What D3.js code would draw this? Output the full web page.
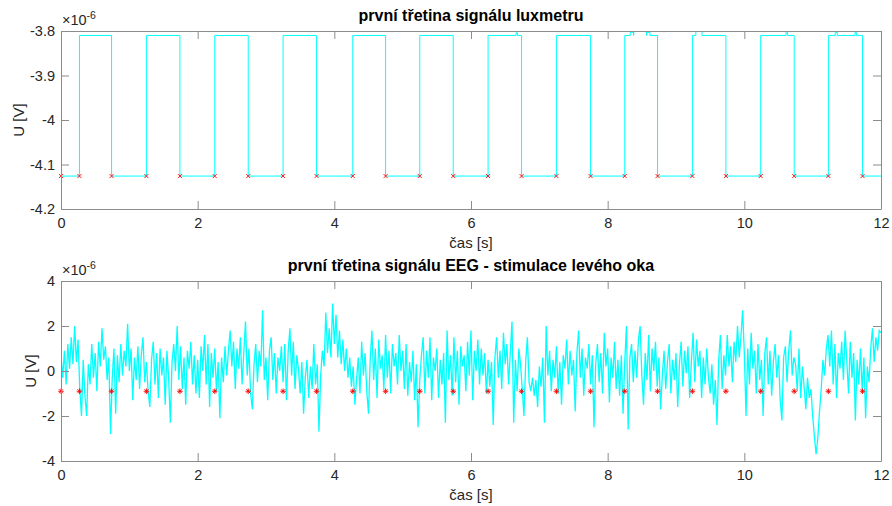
<!DOCTYPE html>
<html>
<head>
<meta charset="utf-8">
<script src="https://cdn.jsdelivr.net/npm/d3@7"></script>
<style>
  body { margin: 0; background: #fff; }
  text { font-family: "Liberation Sans", Arial, sans-serif; }
</style>
</head>
<body>
<script>
// values are in units of 1e-6 V (the axis multiplier)
var xTicks = [0, 2, 4, 6, 8, 10, 12];
var luxTicks = [-3.8, -3.9, -4, -4.1, -4.2];
var eegTicks = [-4, -2, 0, 2, 4];

// luxmeter: square wave, edge times
var luxHigh = -3.81;
var luxLow = -4.126;
var riseTimes = [0.27, 1.25, 2.25, 3.25, 4.27, 5.25, 6.25, 7.25, 8.25, 9.24, 10.24, 11.23];
var fallTimes = [0.74, 1.74, 2.74, 3.74, 4.75, 5.74, 6.74, 7.75, 8.73, 9.73, 10.73, 11.73];
// small ripples on top of some pulses: [start, end, level]
var luxBumps = [
  [6.66, 6.68, -3.804],
  [8.33, 8.38, -3.803], [8.38, 8.57, -3.797], [8.57, 8.62, -3.803],
  [9.29, 9.38, -3.797],
  [10.61, 10.63, -3.799],
  [11.33, 11.36, -3.803], [11.62, 11.64, -3.803]
];

// detected stimulus markers
var markerTimes = [0, 0.27, 0.74, 1.25, 1.74, 2.25, 2.74, 3.25, 3.74, 4.27, 4.75, 5.25, 5.74,
  6.25, 6.74, 7.25, 7.75, 8.25, 8.73, 9.24, 9.73, 10.24, 10.73, 11.23, 11.73];
var markerLux = -4.126;
var markerEeg = -0.9;

// EEG samples, one every 0.025 s from 0 to 12 s
var eegStep = 0.025;
var eeg = [
  0.7, -0.3, 0.9, -0.6, 1.2, 0.1, 1.5, 0.3, 2.0, 0.4,
  1.4, -0.8, -2.0, 0.5, -1.1, -2.0, 0.3, -0.6, 1.2, -0.3,
  0.8, -0.9, 1.3, 0.2, 1.9, 0.5, 1.1, -0.4, 0.6, -2.8,
  -0.3, 1.0, -1.9, 0.7, -0.5, 1.2, -0.2, 0.9, 0.2, 2.1,
  0.0, 1.0, -1.3, 0.6, -0.4, 1.1, -0.8, 0.7, 1.5, -0.5,
  0.4, -0.9, -1.6, 0.5, 1.3, -0.6, 0.8, -1.2, 1.0, -0.2,
  0.6, -1.5, 0.9, -0.3, -2.3, 0.4, 1.2, 0.0, 2.0, -0.4,
  1.1, -0.8, 0.6, -1.5, 0.9, 0.1, 1.3, -0.6, 0.7, -1.0,
  0.5, -1.2, 1.1, 0.0, 1.6, -0.6, 1.2, -1.6, 0.8, -0.3,
  1.0, -0.9, 0.4, -2.1, 0.6, -0.5, 1.1, -0.2, 0.9, 1.8,
  0.2, 1.3, -0.8, 1.0, 0.1, 1.5, -0.6, 0.8, 2.2, -0.2,
  1.0, -1.0, -1.7, 0.3, 1.2, -0.5, 0.9, 0.2, 2.7, -0.4,
  0.6, -1.3, 0.9, 1.5, -0.4, 0.8, -1.0, 0.6, 0.0, 1.1,
  -0.5, 1.2, -1.3, 0.9, 1.9, -0.2, 1.3, -0.8, 0.7, 0.1,
  -1.0, 0.4, -1.9, -0.3, 0.5, -1.2, 0.2, -0.8, 1.2, -0.6,
  0.3, -2.7, -0.2, 0.9, 0.2, 2.6, 0.8, 1.9, 0.6, 3.0,
  1.2, 2.5, 0.6, 1.8, 0.3, 1.4, 0.0, 1.0, -0.3, 0.6,
  -0.7, 0.2, -1.5, -0.4, 0.6, -1.0, 1.3, -0.2, 0.8, -0.9,
  -1.9, 0.5, 1.8, -0.4, 1.0, -1.2, 1.4, 0.1, 0.7, -0.8,
  1.6, -0.3, 0.9, -1.0, 1.2, 0.2, 0.8, -0.6, 1.6, 0.0,
  0.9, -0.8, 1.2, -1.1, 0.4, -0.5, 0.9, -1.3, 0.3, -2.5,
  -0.4, 0.7, 1.5, -1.0, 0.9, -0.3, 1.5, -1.3, 0.6, 0.0,
  1.0, -1.2, 0.5, -0.6, 0.8, -2.3, 1.8, -0.4, 0.7, -1.1,
  1.5, -0.5, 0.9, -1.5, 1.1, 0.2, 0.7, -0.9, 1.3, -0.2,
  1.8, -1.3, 0.9, 0.0, 1.4, -0.6, 1.0, -0.2, 0.8, -1.0,
  0.5, -0.7, 0.4, -2.4, 0.6, 1.5, -0.3, 0.9, -0.8, 1.7,
  0.3, 1.2, -0.6, 0.8, 2.2, -2.3, 0.5, -0.9, 1.0, 0.3,
  -0.8, -2.0, 0.4, 1.5, -0.5, -0.9, -0.3, -1.1, -0.4, -1.6,
  0.2, -0.7, 0.6, -2.3, 2.0, -0.2, 0.9, -0.9, 0.5, -0.3,
  1.1, -1.0, 0.4, -1.5, 0.7, 0.1, 1.4, -0.6, 0.9, -0.2,
  0.5, -1.8, 0.8, 1.8, -0.3, 1.0, -1.1, 0.6, 0.1, 1.2,
  -0.6, 0.7, -2.5, 0.3, 1.2, -0.5, 0.8, -1.0, 1.7, 0.2,
  1.0, -1.4, 0.6, -0.3, 1.3, -0.8, 0.5, -1.1, 0.7, -1.9,
  0.4, 2.0, -2.6, 0.6, 1.2, -0.5, 0.9, -0.3, 1.4, 2.0,
  -0.2, -1.5, 0.8, -0.4, 1.6, -0.9, 1.0, 0.0, 1.3, -0.7,
  0.6, -1.7, -0.2, 0.9, -0.8, 0.4, 1.2, -1.0, 0.5, -0.4,
  0.8, -1.6, 0.3, 1.3, -0.7, 0.9, -0.1, 1.1, -1.2, 0.4,
  1.7, -0.5, 1.4, 0.2, 0.9, -1.2, 0.6, -0.6, 1.0, -0.3,
  -1.0, 0.3, -1.5, -0.4, -2.4, 0.5, 1.6, -0.8, 0.7, -0.2,
  1.6, 0.2, 1.1, -0.5, 1.3, 0.4, 2.0, 0.6, 1.5, 2.7,
  0.8, -2.0, 1.0, -0.6, 1.7, 0.1, 0.9, -1.0, 1.2, -0.4,
  0.5, -2.0, 0.8, 1.5, -0.6, 0.9, -1.1, 0.4, 1.2, -0.3,
  0.7, -1.3, -2.2, 0.6, 1.1, -0.5, 0.9, 1.8, -0.2, 0.6,
  0.3, -0.9, 1.0, -1.2, 0.2, -0.7, -1.7, -0.3, -1.2, -0.8,
  -2.0, -2.9, -3.7, -3.0, -1.8, -0.8, 0.5, -0.2, 1.0, 1.6,
  0.2, 1.8, -0.6, 1.2, -1.2, 0.8, 0.1, 1.3, -0.4, 1.8,
  0.4, -1.0, 1.3, -0.3, 0.8, -2.2, 0.5, -0.6, 1.0, -0.9,
  0.6, -2.1, 0.2, -0.5, 1.0, 1.9, 0.4, 1.5, 0.9, 1.8,
  1.7
];

var width = 892, height = 506;
var left = 61, right = 881;
var lineColor = "#00ffff";
var axisColor = "#8c8c8c";
var labelColor = "#262626";

var svg = d3.select("body").append("svg").attr("width", width).attr("height", height);

var x = d3.scaleLinear().domain([0, 12]).range([left, right]);

// luxmeter step trace from the edge times (with the top ripples)
var luxPts = [[0, luxLow]];
riseTimes.forEach(function (r, i) {
  var f = fallTimes[i];
  luxPts.push([r, luxLow], [r, luxHigh]);
  luxBumps.filter(function (b) { return b[0] > r && b[1] < f; }).forEach(function (b) {
    luxPts.push([b[0], luxHigh], [b[0], b[2]], [b[1], b[2]], [b[1], luxHigh]);
  });
  luxPts.push([f, luxHigh], [f, luxLow]);
});
luxPts.push([12, luxLow]);

var eegPts = eeg.map(function (v, i) { return [i * eegStep, v]; });

function panel(cfg) {
  var y = d3.scaleLinear().domain(cfg.domain).range([cfg.bottom, cfg.top]);
  var g = svg.append("g");
  var clipId = "clip" + cfg.top;
  svg.append("clipPath").attr("id", clipId).append("rect")
    .attr("x", left).attr("y", cfg.top).attr("width", right - left).attr("height", cfg.bottom - cfg.top);

  var line = d3.line().x(function (d) { return x(d[0]); }).y(function (d) { return y(d[1]); });
  g.append("path").datum(cfg.data).attr("clip-path", "url(#" + clipId + ")")
    .attr("d", line).attr("fill", "none").attr("stroke", lineColor).attr("stroke-width", cfg.lw);

  // markers
  var m = g.append("g").attr("stroke", "#ff0000").attr("stroke-width", 0.9);
  markerTimes.forEach(function (t) {
    var cx = x(t), cy = y(cfg.marker), s = 2.8;
    m.append("path").attr("d", cfg.star
      ? "M" + (cx - s) + "," + cy + "H" + (cx + s) + "M" + cx + "," + (cy - s) + "V" + (cy + s) +
        "M" + (cx - s * 0.7) + "," + (cy - s * 0.7) + "L" + (cx + s * 0.7) + "," + (cy + s * 0.7) +
        "M" + (cx - s * 0.7) + "," + (cy + s * 0.7) + "L" + (cx + s * 0.7) + "," + (cy - s * 0.7)
      : "M" + (cx - 2) + "," + (cy - 2) + "L" + (cx + 2) + "," + (cy + 2) +
        "M" + (cx - 2) + "," + (cy + 2) + "L" + (cx + 2) + "," + (cy - 2));
  });

  var fmt = function (d) { return String(d); };
  var ax = [
    g.append("g").attr("transform", "translate(0," + cfg.bottom + ")")
      .call(d3.axisBottom(x).tickValues(xTicks).tickFormat(fmt).tickSizeInner(-8).tickSizeOuter(0).tickPadding(9)),
    g.append("g").attr("transform", "translate(0," + cfg.top + ")")
      .call(d3.axisTop(x).tickValues(xTicks).tickFormat("").tickSizeInner(-8).tickSizeOuter(0)),
    g.append("g").attr("transform", "translate(" + left + ",0)")
      .call(d3.axisLeft(y).tickValues(cfg.ticks).tickFormat(fmt).tickSizeInner(-8).tickSizeOuter(0).tickPadding(6)),
    g.append("g").attr("transform", "translate(" + right + ",0)")
      .call(d3.axisRight(y).tickValues(cfg.ticks).tickFormat("").tickSizeInner(-8).tickSizeOuter(0))
  ];
  ax.forEach(function (a) {
    a.select(".domain").attr("stroke", axisColor);
    a.selectAll(".tick line").attr("stroke", axisColor);
    a.selectAll(".tick text").attr("fill", labelColor).style("font-size", "14.5px");
  });

  // exponent
  var e = g.append("text").attr("x", left + 1).attr("y", cfg.top - 6)
    .attr("fill", labelColor).style("font-size", "14.5px");
  e.append("tspan").text("\u00d710");
  e.append("tspan").attr("dy", -6).style("font-size", "10.5px").text("-6");

  g.append("text").attr("x", (left + right) / 2).attr("y", cfg.top - 10)
    .attr("text-anchor", "middle").style("font-size", "16px").style("font-weight", "bold")
    .attr("fill", "#000").text(cfg.title);

  g.append("text").attr("x", (left + right) / 2).attr("y", cfg.bottom + 39)
    .attr("text-anchor", "middle").style("font-size", "15px").attr("fill", labelColor).text("\u010das [s]");

  g.append("text").attr("transform", "translate(" + cfg.ylabX + "," + (cfg.top + cfg.bottom) / 2 + ") rotate(-90)")
    .attr("text-anchor", "middle").style("font-size", "15px").attr("fill", labelColor).text("U [V]");
}

panel({
  top: 31, bottom: 209, domain: [-4.2, -3.8], ticks: luxTicks,
  data: luxPts, marker: markerLux, star: false, ylabX: 24, lw: 1,
  title: "první třetina signálu luxmetru"
});

panel({
  top: 281, bottom: 461, domain: [-4, 4], ticks: eegTicks,
  data: eegPts, marker: markerEeg, star: true, ylabX: 36, lw: 1.3,
  title: "první třetina signálu EEG - stimulace levého oka"
});
</script>
</body>
</html>
